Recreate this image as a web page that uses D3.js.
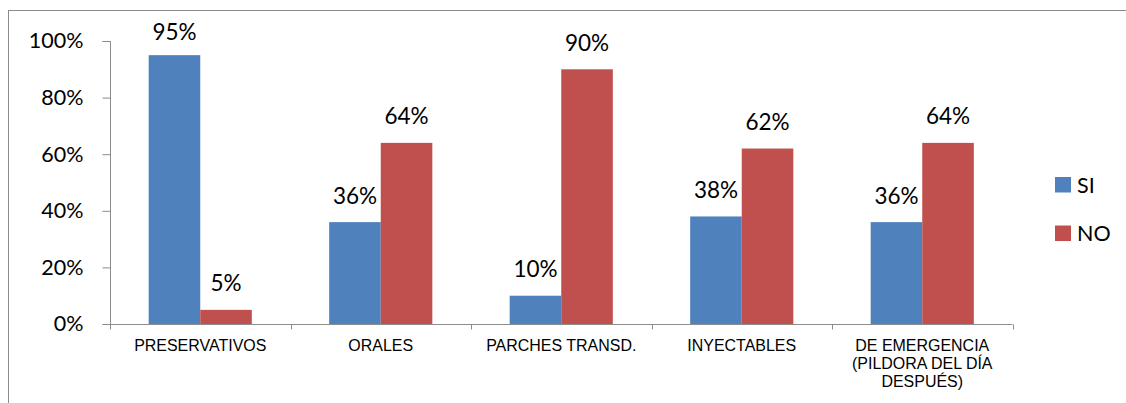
<!DOCTYPE html>
<html><head><meta charset="utf-8">
<script src="https://cdn.jsdelivr.net/npm/d3@7/dist/d3.min.js"></script>
<style>body{margin:0;background:#fff;} svg{display:block;}</style>
</head><body>
<svg id="chart" width="1126" height="403"></svg>
<script>
const categories = ["PRESERVATIVOS", "ORALES", "PARCHES TRANSD.", "INYECTABLES", "DE EMERGENCIA (PILDORA DEL DÍA DESPUÉS)"];
const seriesNames = ["SI", "NO"];
const siValues = [95, 36, 10, 38, 36];
const noValues = [5, 64, 90, 62, 64];
const yTicks = [0, 20, 40, 60, 80, 100];
const colors = ["#4f81bd", "#c0504d"];

const svg = d3.select("#chart");
const W = 1126, H = 403;
const m = {left: 110, top: 41};
const xRight = 1012.5;
const y0 = 324;

svg.append("rect").attr("x", 8.5).attr("y", 10.5).attr("width", W + 20).attr("height", H + 20)
  .attr("fill", "none").attr("stroke", "#8c8c8c").attr("stroke-width", 1);

const x = d3.scaleBand().domain(categories).range([m.left, xRight]).paddingInner(0).paddingOuter(0);
const y = d3.scaleLinear().domain([0, 100]).range([y0, m.top]);
const inner = d3.scaleBand().domain(seriesNames).range([0, x.bandwidth()]).paddingInner(0).paddingOuter(0.75);

const labelFont = "Lato, 'Open Sans', sans-serif";
const catFont = "'Liberation Sans', Arial, sans-serif";

// y axis
const yAxis = d3.axisLeft(y).tickValues(yTicks).tickSize(8).tickFormat(d => d + "%");
const gy = svg.append("g").attr("transform", `translate(${m.left + 0.5},0)`).call(yAxis);
gy.select(".domain").attr("stroke", "#8c8c8c").attr("d", `M-8,${y(100)+0.5}H0V${y0+0.5}H-8`);
gy.selectAll(".tick line").attr("stroke", "#8c8c8c");
gy.selectAll(".tick text").attr("x", -27).attr("font-family", labelFont).attr("font-size", 21.5).attr("fill", "#000");

// x axis
const gx = svg.append("g").attr("transform", `translate(0,${y0 + 0.5})`);
gx.append("line").attr("x1", m.left).attr("x2", xRight).attr("stroke", "#8c8c8c");
const tickPos = categories.map(c => x(c)).concat([x(categories[categories.length-1]) + x.bandwidth()]);
gx.selectAll(".xt").data(tickPos).join("line").attr("class","xt")
  .attr("x1", d => Math.round(d) + 0.5).attr("x2", d => Math.round(d) + 0.5).attr("y1", 0).attr("y2", 5)
  .attr("stroke", "#8c8c8c");

// category labels with wrapping
const catG = svg.append("g");
const sx = 0.94;
categories.forEach(c => {
  const cx = x(c) + x.bandwidth()/2;
  const t = catG.append("text").attr("transform", `translate(${cx},350.5) scale(${sx},1)`)
    .attr("text-anchor", "middle").attr("font-family", catFont)
    .attr("font-size", 17).attr("fill", "#000");
  const words = c.split(" ");
  let line = [], lines = [];
  const probe = catG.append("text").attr("font-family", catFont).attr("font-size", 17);
  words.forEach(w => {
    const test = line.concat([w]).join(" ");
    probe.text(test);
    if (probe.node().getComputedTextLength() * sx > 155 && line.length) { lines.push(line.join(" ")); line = [w]; }
    else line.push(w);
  });
  lines.push(line.join(" "));
  probe.remove();
  lines.forEach((l, i) => t.append("tspan").attr("x", 0).attr("dy", i ? 18.3 : 0).text(l));
});

// bars
const data = categories.map((c, i) => ({cat: c, vals: [siValues[i], noValues[i]]}));
const groups = svg.selectAll(".grp").data(data).join("g").attr("class", "grp")
  .attr("transform", d => `translate(${x(d.cat)},0)`);
groups.selectAll("rect").data(d => d.vals.map((v, j) => ({s: seriesNames[j], v, j})))
  .join("rect")
  .attr("x", d => inner(d.s)).attr("width", inner.bandwidth())
  .attr("y", d => y(d.v)).attr("height", d => y0 - y(d.v))
  .attr("fill", d => colors[d.j]);
groups.selectAll(".lbl").data(d => d.vals.map((v, j) => ({s: seriesNames[j], v, j})))
  .join("text").attr("class", "lbl")
  .attr("x", d => inner(d.s) + inner.bandwidth()/2).attr("y", d => Math.max(y(d.v) - 18.5, 40))
  .attr("text-anchor", "middle").attr("font-family", labelFont).attr("font-size", 22.5).attr("fill", "#000")
  .text(d => d.v + "%");

// legend
const leg = svg.append("g");
seriesNames.forEach((s, i) => {
  const ly = 177 + i * 48.5;
  leg.append("rect").attr("x", 1055).attr("y", ly).attr("width", 16).attr("height", 15.5).attr("fill", colors[i]);
  leg.append("text").attr("x", 1077).attr("y", ly + 15.5).attr("font-family", labelFont).attr("font-size", 21.5).attr("fill", "#000").text(s);
});
</script>
</body></html>
